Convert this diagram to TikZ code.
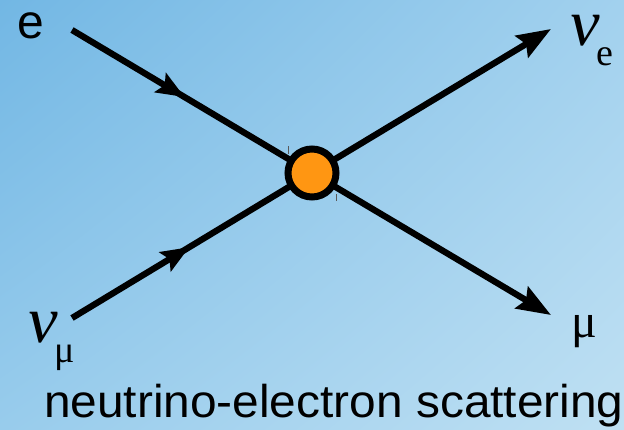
\documentclass[tikz,border=0pt]{standalone}
\usepackage{fontspec}
\setmainfont{Liberation Sans}
\newfontfamily\serifgr{Liberation Serif}
\newfontfamily\serifsl{Liberation Serif}[FakeSlant=0.15]
\usetikzlibrary{arrows.meta,decorations.markings,shadings}
\definecolor{bgA}{HTML}{72B7E4}
\definecolor{bgB}{HTML}{A2D1EE}
\definecolor{bgC}{HTML}{98CCEC}
\definecolor{bgD}{HTML}{BFE0F3}
\definecolor{vtx}{HTML}{FF9612}
\begin{document}
\begin{tikzpicture}[x=1pt,y=1pt,
  leg/.style={line width=6.3pt, line cap=butt},
  endarrow/.style={-{Stealth[length=34pt,width=25pt,inset=5pt]}},
  midarrow/.style={postaction={decorate}, decoration={markings,
     mark=at position #1 with {\arrow{Stealth[length=28pt,width=22pt,inset=5pt]}}}},
  vertex/.style={circle, draw=black, line width=7pt, fill=vtx, minimum size=48pt, inner sep=0pt},
  tickmark/.style={line width=0.8pt, draw=black!65},
  lbl/.style={inner sep=0pt, outer sep=0pt}
]
\shade[upper left=bgA, upper right=bgB, lower left=bgC, lower right=bgD] (0,0) rectangle (624,-429);
\useasboundingbox (0,0) rectangle (624,-429);

\coordinate (c) at (312,-173);
\coordinate (ein) at (72,-30);
\coordinate (numuin) at (72,-318);
\coordinate (nueout) at (551,-29);
\coordinate (muout) at (551,-315);

\draw[leg, midarrow=131pt] (ein) -- (c);
\draw[leg, midarrow=137pt] (numuin) -- (c);
\draw[leg, endarrow] (c) -- (nueout);
\draw[leg, endarrow] (c) -- (muout);

\node[vertex] (v) at (c) {};
\draw[tickmark] (288,-146) -- (288,-154);
\draw[tickmark] (336,-194) -- (336,-201);

\node[lbl, anchor=base west, font=\fontsize{48}{56}\selectfont] (le) at (17,-38) {e};
\node[lbl, anchor=base west] (lnue) at (567,-45)
  {\serifsl\fontsize{66}{70}\selectfont ν\raisebox{-20pt}{\serifgr\fontsize{38}{42}\selectfont e}};
\node[lbl, anchor=base west] (lnumu) at (25,-342)
  {\serifsl\fontsize{66}{70}\selectfont ν\raisebox{-20pt}{\serifgr\fontsize{38}{42}\selectfont μ}};
\node[lbl, anchor=base west] (lmu) at (571,-337) {\serifgr\fontsize{48}{56}\selectfont μ};
\node[lbl, anchor=base west, font=\fontsize{46}{54}\selectfont, xscale=1.04] (title) at (44,-417) {neutrino-electron scattering};
\end{tikzpicture}
\end{document}
